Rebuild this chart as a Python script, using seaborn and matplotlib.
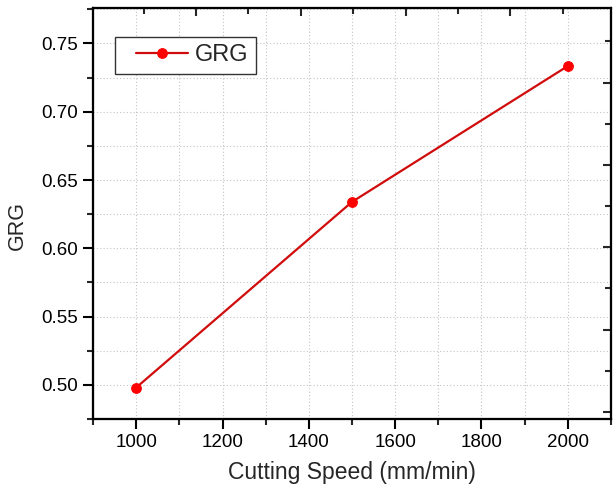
import numpy as np
import pandas as pd
import matplotlib
matplotlib.use("Agg")
import matplotlib.pyplot as plt
import seaborn as sns
from matplotlib.ticker import MultipleLocator, FixedLocator, NullFormatter
from matplotlib.legend_handler import HandlerLine2D

speed = [1000, 1500, 2000]
grg = [0.498, 0.634, 0.7335]
series_name = "GRG"
x_label = "Cutting Speed (mm/min)"
y_label = "GRG"

df = pd.DataFrame({"speed": speed, "grg": grg, "series": [series_name] * len(speed)})

sns.set_style("white")
plt.rcParams["font.family"] = ["Liberation Sans", "DejaVu Sans"]

fig = plt.figure(figsize=(6.14, 4.90), dpi=100)
ax = fig.add_axes([0.1515, 0.1449, 0.9951 - 0.1515, 0.9837 - 0.1449])

sns.lineplot(data=df, x="speed", y="grg", hue="series", palette=["#d00c0c"],
             marker="o", markersize=7, markerfacecolor="#ff0000",
             markeredgecolor="#ff0000", linewidth=1.6, ax=ax)

ax.set_xlim(900, 2100)
ax.set_ylim(0.475, 0.776)
ax.xaxis.set_major_locator(MultipleLocator(200))
ax.xaxis.set_minor_locator(MultipleLocator(100))
ax.yaxis.set_major_locator(MultipleLocator(0.05))
ax.yaxis.set_minor_locator(MultipleLocator(0.025))
ax.yaxis.set_major_formatter(matplotlib.ticker.FormatStrFormatter("%.2f"))

ax.grid(True, which="both", linestyle=(0, (1, 2)), color="#c4c4c4", linewidth=0.8)
ax.set_axisbelow(True)

ax.tick_params(axis="both", which="major", direction="out", length=7, width=1.5,
               labelsize=13.5, colors="black", pad=4)
ax.tick_params(axis="both", which="minor", direction="out", length=4, width=1.5)
for s in ax.spines.values():
    s.set_visible(True)
    s.set_color("black")
    s.set_linewidth(1.5)

ax.set_xlabel(x_label, fontsize=16.5, labelpad=7)
ax.set_ylabel(y_label, fontsize=15.5)
ax.yaxis.set_label_coords(-0.125, 0.47)

# top and right inward ticks (independent scale, as in the reference)
axt = ax.twiny()
axt.set_xlim(ax.get_xlim())
axt.xaxis.set_major_locator(FixedLocator([1138, 1381, 1624, 1867]))
axt.xaxis.set_minor_locator(FixedLocator([1017, 1259, 1502, 1745, 1988]))
axt.xaxis.set_major_formatter(NullFormatter())
axt.tick_params(axis="x", which="major", direction="in", length=6, width=1.5)
axt.tick_params(axis="x", which="minor", direction="in", length=4, width=1.5)
axr = ax.twinx()
axr.set_ylim(ax.get_ylim())
axr.yaxis.set_major_locator(FixedLocator([0.4802, 0.5404, 0.6007, 0.661, 0.7213]))
axr.yaxis.set_minor_locator(FixedLocator([0.5103, 0.5706, 0.6308, 0.6911, 0.7515]))
axr.yaxis.set_major_formatter(NullFormatter())
axr.tick_params(axis="y", which="major", direction="in", length=6, width=1.5)
axr.tick_params(axis="y", which="minor", direction="in", length=4, width=1.5)
for a in (axt, axr):
    for s in a.spines.values():
        s.set_linewidth(1.5)
        s.set_color("black")
    a.grid(False)

fs = 17
SHIFT = 9.7  # points of extra left space before the legend line
hl = 2.77


class ShiftedLineHandler(HandlerLine2D):
    def create_artists(self, legend, orig_handle, xdescent, ydescent,
                       width, height, fontsize, trans):
        return super().create_artists(legend, orig_handle, xdescent - SHIFT,
                                      ydescent, width - SHIFT, height,
                                      fontsize, trans)


handles, labels = ax.get_legend_handles_labels()
leg = ax.legend(handles, labels, loc="upper left", bbox_to_anchor=(0.042, 0.93),
                fontsize=fs, frameon=True, fancybox=False, edgecolor="#333333",
                framealpha=1, borderpad=0.32, handlelength=hl, handletextpad=0.3,
                borderaxespad=0,
                handler_map={h: ShiftedLineHandler() for h in handles})
leg.get_frame().set_linewidth(1.0)
leg.set_zorder(10)

fig.savefig("out.png", dpi=100)
